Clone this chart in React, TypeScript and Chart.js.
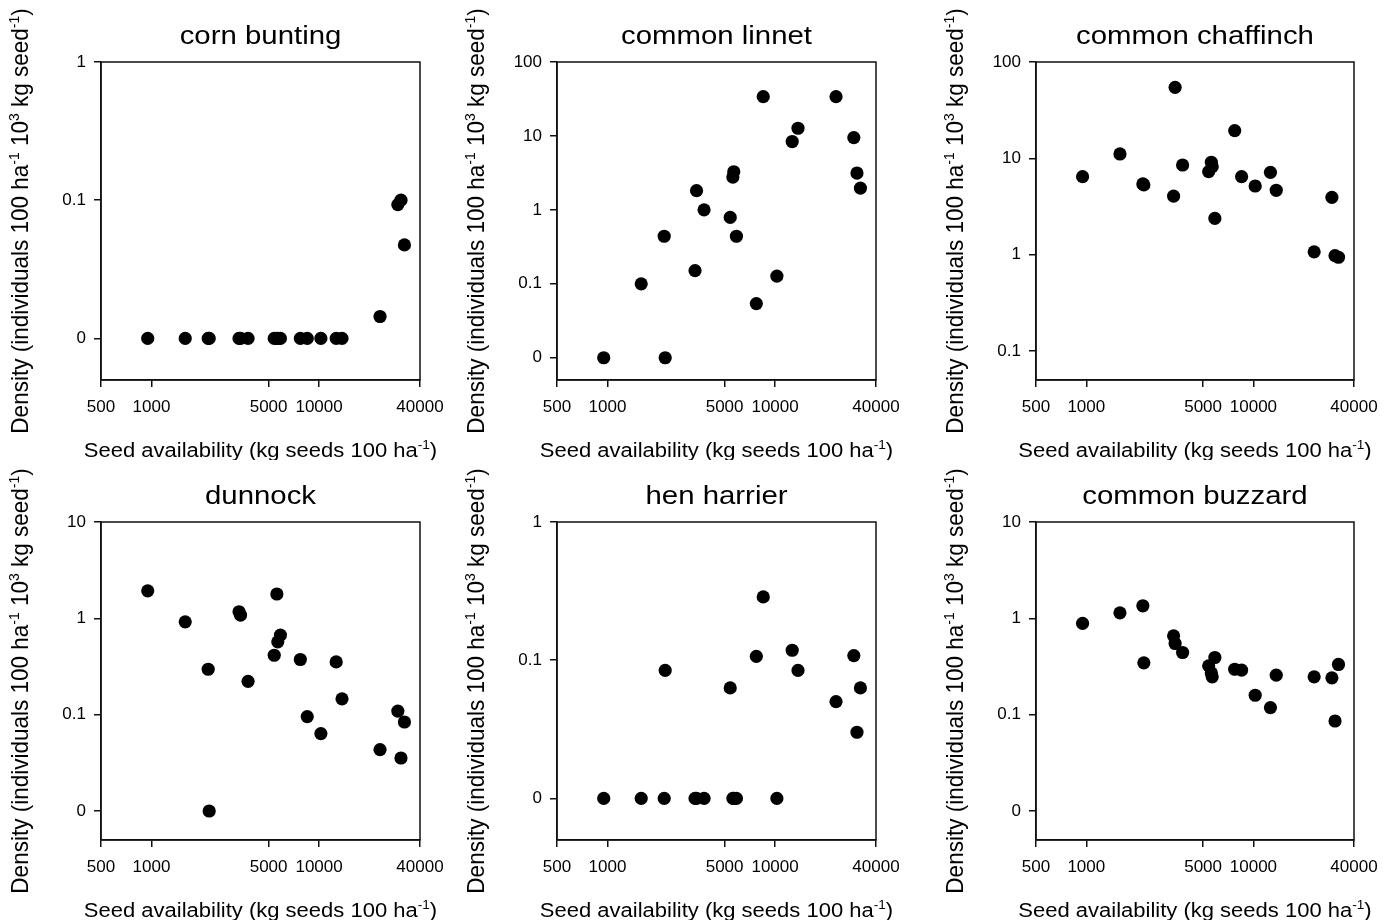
import React, { useEffect, useRef } from 'react';
import { Chart, registerables } from 'chart.js';

Chart.register(...registerables);

const FONT = '"Liberation Sans", Arial, Helvetica, sans-serif';
const INK = '#111111';

// ---------- data ----------
// Seed availability of each site (kg seeds 100 ha^-1), shared by every panel
const seedAvailability = [950, 1590, 2180, 2210, 3330, 3400, 3770, 5400, 5600, 5670, 5880, 7730, 8500, 10250, 12650, 13700, 23100, 29500, 30800, 32300];

// Density (individuals 100 ha^-1 10^3 kg seed^-1), one value per site
const cornBunting = [0, 0, 0, 0, 0, 0, 0, 0, 0, 0, 0, 0, 0, 0, 0, 0, 0.0144, 0.093, 0.1, 0.0475];
const commonLinnet = [0, 0.1, 0.44, 0, 0.151, 1.82, 1.0, 0.79, 2.78, 3.28, 0.44, 0.054, 34, 0.127, 8.4, 12.7, 34, 9.5, 3.15, 1.97];
const commonChaffinch = [6.45, 11.1, 5.42, 5.3, 4.06, 54.6, 8.53, 7.27, 9.1, 8.19, 2.38, 19.4, 6.45, 5.16, 7.16, 4.66, 1.07, 3.94, 0.976, 0.94];
const dunnock = [1.93, 0.92, 0.296, 0, 1.17, 1.08, 0.222, 0.414, 1.79, 0.57, 0.67, 0.374, 0.0955, 0.0636, 0.353, 0.146, 0.0434, 0.109, 0.0355, 0.0839];
const henHarrier = [0, 0, 0, 0.0843, 0, 0, 0, 0.063, 0, 0, 0, 0.1066, 0.287, 0, 0.118, 0.0843, 0.0502, 0.108, 0.0301, 0.063];
const commonBuzzard = [0.885, 1.14, 1.35, 0.345, 0.658, 0.548, 0.442, 0.321, 0.271, 0.247, 0.392, 0.296, 0.29, 0.159, 0.1185, 0.257, 0.247, 0.241, 0.086, 0.332];

const speciesNames = ['corn bunting', 'common linnet', 'common chaffinch', 'dunnock', 'hen harrier', 'common buzzard'];
const speciesDensities = [cornBunting, commonLinnet, commonChaffinch, dunnock, henHarrier, commonBuzzard];

const xRange = [500, 40000];
const xTickValues = [500, 1000, 5000, 10000, 40000];
const xTickLabels = ['500', '1000', '5000', '10000', '40000'];

// a density of 0 is shown at this position of the log axis, labelled "0"
const ZERO_POSITION = 0.01;

const yRanges = [[0.005, 1], [0.005, 100], [0.05, 100], [0.005, 10], [0.005, 1], [0.005, 10]];
const yTickValues = [
  [0.01, 0.1, 1],
  [0.01, 0.1, 1, 10, 100],
  [0.1, 1, 10, 100],
  [0.01, 0.1, 1, 10],
  [0.01, 0.1, 1],
  [0.01, 0.1, 1, 10],
];
const yTickLabels = [
  ['0', '0.1', '1'],
  ['0', '0.1', '1', '10', '100'],
  ['0.1', '1', '10', '100'],
  ['0', '0.1', '1', '10'],
  ['0', '0.1', '1'],
  ['0', '0.1', '1', '10'],
];

const xTitleParts = [
  { t: 'Seed availability (kg seeds 100 ha' },
  { t: '-1', sup: true },
  { t: ')' },
];
const yTitleParts = [
  { t: 'Density (individuals 100 ha' },
  { t: '-1', sup: true },
  { t: ' 10' },
  { t: '3', sup: true },
  { t: ' kg seed' },
  { t: '-1', sup: true },
  { t: ')' },
];

// ---------- layout ----------
const PLOT_LEFT = [101, 557, 1036];
const PLOT_WIDTH = [319, 319, 318];
const ROW_TOP = [0, 460];
const Y_AXIS_W = 100;
const RIGHT_PAD = 40;
const TOP_PAD = 62;
const X_AXIS_H = 80;
const CANVAS_H = 460;

type Part = { t: string; sup?: boolean };

function drawRich(
  ctx: CanvasRenderingContext2D,
  parts: Part[],
  x: number,
  y: number,
  size: number,
  rotation: number,
  sx: number,
  sy: number
) {
  ctx.save();
  ctx.translate(x, y);
  ctx.rotate(rotation);
  ctx.scale(sx, sy);
  const supSize = size * 0.62;
  let total = 0;
  const widths = parts.map((p) => {
    ctx.font = `${p.sup ? supSize : size}px ${FONT}`;
    const w = ctx.measureText(p.t).width;
    total += w;
    return w;
  });
  let cx = -total / 2;
  ctx.fillStyle = '#000';
  ctx.textBaseline = 'alphabetic';
  ctx.textAlign = 'left';
  parts.forEach((p, i) => {
    ctx.font = `${p.sup ? supSize : size}px ${FONT}`;
    ctx.fillText(p.t, cx, p.sup ? -size * 0.37 : 0);
    cx += widths[i];
  });
  ctx.restore();
}

const panelTextPlugin = {
  id: 'panelText',
  afterDraw(chart: any, _args: any, opts: any) {
    const ctx: CanvasRenderingContext2D = chart.ctx;
    const { left, right, top, bottom } = chart.chartArea;
    const cx = (left + right) / 2;
    const cy = (top + bottom) / 2;
    // frame around the plot area
    ctx.save();
    ctx.strokeStyle = INK;
    ctx.lineWidth = 1.5;
    ctx.strokeRect(left, top, right - left, bottom - top);
    ctx.restore();
    // panel title
    drawRich(ctx, [{ t: opts.title }], cx, 44, 26, 0, 1.13, 1);
    // x axis title
    drawRich(ctx, xTitleParts, cx, bottom + 76.5, 20, 0, 1.1, 1);
    // y axis title
    drawRich(ctx, yTitleParts, left - 73, cy, 22.5, -Math.PI / 2, 1, 1.1);
  },
};

function Panel({ index }: { index: number }) {
  const ref = useRef<HTMLCanvasElement>(null);
  const col = index % 3;
  const row = Math.floor(index / 3);
  const canvasLeft = PLOT_LEFT[col] - Y_AXIS_W;
  const canvasTop = ROW_TOP[row];
  const canvasW = Y_AXIS_W + PLOT_WIDTH[col] + RIGHT_PAD;

  useEffect(() => {
    const densities = speciesDensities[index];
    const points = seedAvailability.map((x, i) => ({
      x,
      y: densities[i] === 0 ? ZERO_POSITION : densities[i],
    }));
    const yTicks = yTickValues[index];
    const yLabels = yTickLabels[index];
    const tickFont = { family: FONT, size: 17, lineHeight: 1.2 };
    const grid = {
      display: true,
      drawOnChartArea: false,
      drawTicks: true,
      tickLength: 7,
      color: INK,
      lineWidth: 1.5,
    };
    const border = { display: true, color: INK, width: 1.5 };

    const chart = new Chart(ref.current as HTMLCanvasElement, {
      type: 'scatter',
      data: {
        datasets: [
          {
            label: speciesNames[index],
            data: points,
            pointRadius: 6.6,
            pointHoverRadius: 6.6,
            pointBackgroundColor: '#000',
            pointBorderWidth: 0,
            borderWidth: 0,
            showLine: false,
          },
        ],
      },
      options: {
        responsive: false,
        animation: false,
        events: [],
        layout: { padding: { top: TOP_PAD, right: RIGHT_PAD, left: 0, bottom: 0 } },
        plugins: {
          legend: { display: false },
          tooltip: { enabled: false },
          title: { display: false },
          panelText: { title: speciesNames[index] },
        } as any,
        scales: {
          x: {
            type: 'logarithmic',
            position: 'bottom',
            min: xRange[0],
            max: xRange[1],
            bounds: 'data',
            afterBuildTicks: (s: any) => {
              s.ticks = xTickValues.map((v) => ({ value: v }));
            },
            afterFit: (s: any) => {
              s.height = X_AXIS_H;
            },
            ticks: {
              autoSkip: false,
              maxRotation: 0,
              minRotation: 0,
              padding: 10,
              color: '#000',
              font: tickFont,
              callback: (_v: any, i: number) => xTickLabels[i],
            },
            grid,
            border,
            title: { display: false },
          },
          y: {
            type: 'logarithmic',
            position: 'left',
            min: yRanges[index][0],
            max: yRanges[index][1],
            bounds: 'data',
            afterBuildTicks: (s: any) => {
              s.ticks = yTicks.map((v) => ({ value: v }));
            },
            afterFit: (s: any) => {
              s.width = Y_AXIS_W;
            },
            ticks: {
              autoSkip: false,
              padding: 8,
              color: '#000',
              font: tickFont,
              callback: (_v: any, i: number) => yLabels[i],
            },
            grid,
            border,
            title: { display: false },
          },
        },
      } as any,
      plugins: [panelTextPlugin],
    });
    return () => chart.destroy();
  }, [index]);

  return (
    <canvas
      ref={ref}
      width={canvasW}
      height={CANVAS_H}
      style={{
        position: 'absolute',
        left: canvasLeft,
        top: canvasTop,
        width: canvasW,
        height: CANVAS_H,
        display: 'block',
      }}
    />
  );
}

export default function App() {
  return (
    <div
      style={{
        position: 'fixed',
        left: 0,
        top: 0,
        width: 1397,
        height: 922,
        background: '#ffffff',
        overflow: 'hidden',
      }}
    >
      {speciesNames.map((_, i) => (
        <Panel key={i} index={i} />
      ))}
    </div>
  );
}
